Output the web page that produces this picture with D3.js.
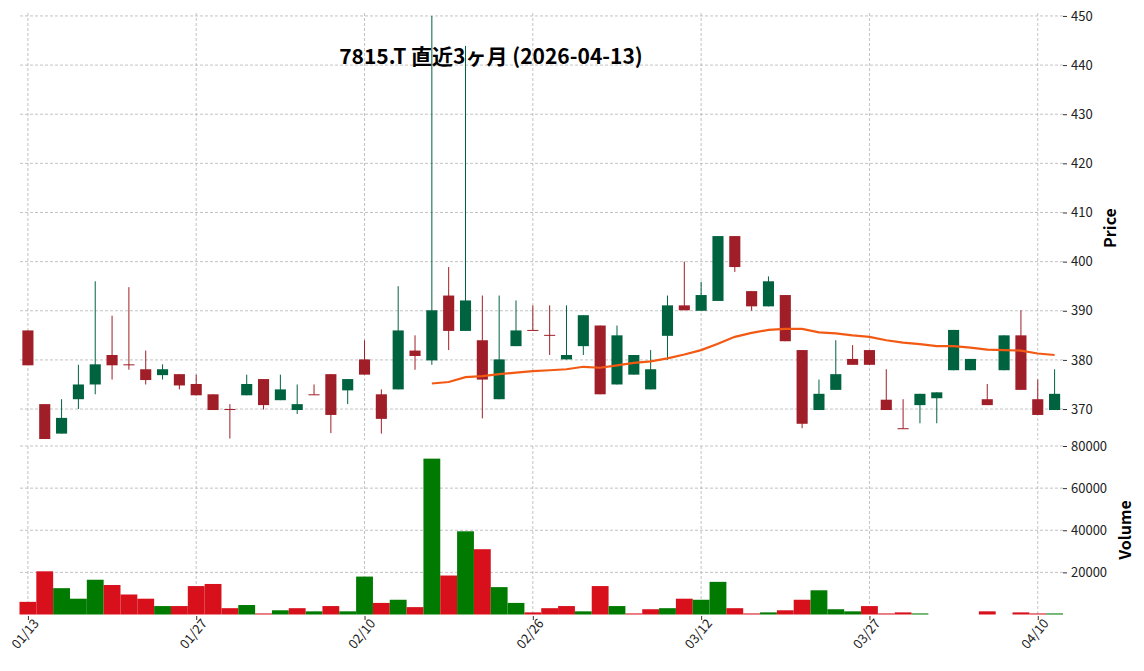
<!DOCTYPE html>
<html><head><meta charset="utf-8">
<script src="https://cdn.jsdelivr.net/npm/d3@7"></script>
<style>body{margin:0;background:#fff}svg{font-family:"Noto Sans CJK JP","DejaVu Sans",sans-serif}</style>
</head><body>
<script>
var dates = ["01/13","01/14","01/15","01/16","01/19","01/20","01/21","01/22","01/23","01/26",
  "01/27","01/28","01/29","01/30","02/02","02/03","02/04","02/05","02/06","02/09",
  "02/10","02/12","02/13","02/16","02/17","02/18","02/19","02/20","02/24","02/25",
  "02/26","02/27","03/02","03/03","03/04","03/05","03/06","03/09","03/10","03/11",
  "03/12","03/13","03/16","03/17","03/18","03/19","03/23","03/24","03/25","03/26",
  "03/27","03/30","03/31","04/01","04/02","04/03","04/06","04/07","04/08","04/09",
  "04/10","04/13"];
var opens = [386,371,365,372,375,381,379.1,378.1,376.9,377.1,375.1,373,370,372.8,376.1,371.8,369.8,373,377.1,373.8,
  380.1,373,374,381.9,379.9,393.1,385.9,384,372,382.8,386.1,385.1,380.1,382.8,387,375,377,374,384.9,391.1,
  390,392,405.2,394,390.9,393.2,382,369.8,373.9,380.2,382,371.9,366.1,370.8,372.2,377.9,377.9,372,377.9,385,372,369.8];
var highs = [386,371,372,379,396,389,394.8,381.9,379.1,377.1,377,373,371,377,376.1,377,375,375,377.1,376.1,
  384,374,395,385,450,398.9,443.9,393.1,393.1,392.1,391.1,391.1,391.1,389.1,387,387,381,382,393.1,400,
  395.9,405.2,405.2,394,397,393.2,382,376,384,383,382,378.1,372,373.1,373.4,386.1,380.2,375.1,385,390.1,376,378.1];
var lows = [379,364,365,370,373,376,378,375,376,374,372.8,369.8,364,372.8,369.9,371.8,369,372.9,365.1,371,
  377,365,374,378,379,382,385.9,368.1,372,382.8,386,381,380.1,381,373,375,377,374,380,390.1,
  390,392,397.9,390,390.9,383.8,366.1,369.8,373.9,379,379,369.8,366,367.1,367.1,377.9,377.9,370.8,377.9,373.9,368.8,369.8];
var closes = [378.9,363.9,368.2,375,379.1,378.9,378.9,375.9,378.1,374.8,372.8,369.8,369.9,375.1,370.8,374,371,372.9,368.8,376.1,
  377,368,386,380.8,390.1,385.9,392.1,376,380.1,386,386,385,381,389.1,373,385,381,378.1,391.1,390.1,
  393.2,405.2,398.9,390.9,396,383.8,367,373.1,377.1,379,379,369.8,366,373.1,373.4,386.1,380.2,370.8,385,373.9,368.8,373.1];
var ma25 = [null,null,null,null,null,null,null,null,null,null,null,null,null,null,null,null,null,null,null,null,
  null,null,null,null,375.2,375.5,376.5,376.7,377.1,377.4,377.7,377.9,378.1,378.6,378.4,378.9,379.4,379.7,380.3,381.1,
  382,383.3,384.7,385.5,386.1,386.3,386.3,385.6,385.4,385,384.7,384,383.5,383.2,382.8,382.8,382.5,382.1,382,381.9,381.3,381];
var volumes = [6000,20500,12500,7500,16500,14000,9500,7500,4000,4000,13500,14500,3000,4500,500,2000,3000,1500,4000,1500,
  18000,5500,7000,3500,74000,18500,39500,31000,13000,5500,1000,3000,4000,1500,13500,4000,500,2500,3000,7500,
  7000,15500,3000,500,1000,2000,7000,11500,2500,1500,4000,500,1000,500,0,0,0,1500,0,1000,500,500];
var volColors = "RRGGGRRRGRRRRGRGRGRGGRGRGRGRGGRRRGRGRRGRGGRRGRRGGGRRRG000R0RRG";
var priceTicks = [370,380,390,400,410,420,430,440,450];
var volTicks = [20000,40000,60000,80000];
var tickIdx = [0,10,20,30,40,50,60];

var W = 1144, H = 671;
var svg = d3.select("body").append("svg").attr("width", W).attr("height", H);
var x = d3.scaleLinear().domain([-0.47, 61.5]).range([20, 1063]);
var y = d3.scaleLinear().domain([363.7, 450.6]).range([440, 13]);
var yv = d3.scaleLinear().domain([0, 80000]).range([614.5, 446]);
var step = x(1) - x(0);
var upC = "#006340", dnC = "#a01e28";

function grid(g, yPos, top, bottom) {
  g.selectAll(".h").data(yPos).enter().append("line")
    .attr("x1", 20).attr("x2", 1063).attr("y1", function(d){return d;}).attr("y2", function(d){return d;})
    .attr("stroke", "#b4b4b4").attr("stroke-dasharray", "3,2").attr("stroke-width", 0.8);
  g.selectAll(".v").data(tickIdx).enter().append("line")
    .attr("x1", function(d){return x(d);}).attr("x2", function(d){return x(d);})
    .attr("y1", top).attr("y2", bottom)
    .attr("stroke", "#b4b4b4").attr("stroke-dasharray", "3,2").attr("stroke-width", 0.8);
}
grid(svg.append("g"), priceTicks.map(y), 13, 440);
grid(svg.append("g"), volTicks.map(yv), 446, 614);

// candles
var c = svg.append("g");
d3.range(opens.length).forEach(function(i) {
  var up = closes[i] >= opens[i], col = up ? upC : dnC;
  c.append("line").attr("x1", x(i)).attr("x2", x(i)).attr("y1", y(highs[i])).attr("y2", y(lows[i]))
    .attr("stroke", col).attr("stroke-width", 1);
  var t = y(Math.max(opens[i], closes[i])), b = y(Math.min(opens[i], closes[i]));
  c.append("rect").attr("x", x(i) - step * 0.33).attr("width", step * 0.66)
    .attr("y", t).attr("height", Math.max(b - t, 1)).attr("fill", col);
});

var line = d3.line().defined(function(d){return d != null;})
  .x(function(d, i){return x(i);}).y(function(d){return y(d);});
svg.append("path").datum(ma25).attr("d", line).attr("fill", "none")
  .attr("stroke", "#f25a14").attr("stroke-width", 2.2);

// volume
svg.append("g").selectAll("rect").data(volumes).enter().append("rect")
  .attr("x", function(d, i){return x(i) - step / 2;}).attr("width", step)
  .attr("y", function(d){return yv(d);})
  .attr("height", function(d){return yv(0) - yv(d);})
  .attr("fill", function(d, i){return volColors[i] == "G" ? "#007a00" : "#d7101c";});

// axes
var ay = svg.append("g").attr("transform", "translate(1063,0)")
  .call(d3.axisRight(y).tickValues(priceTicks).tickSize(4).tickPadding(4));
var av = svg.append("g").attr("transform", "translate(1063,0)")
  .call(d3.axisRight(yv).tickValues(volTicks).tickFormat(d3.format("d")).tickSize(4).tickPadding(4));
var ax = svg.append("g").attr("transform", "translate(0,616)")
  .call(d3.axisBottom(x).tickValues(tickIdx).tickFormat(function(d){return dates[d];}).tickSize(4));
[ay, av, ax].forEach(function(a) {
  a.select(".domain").remove();
  a.selectAll("text").attr("font-size", 13).attr("fill", "#222").style("font-family", "'Noto Sans CJK JP'");
  a.selectAll("line").attr("stroke", "#333");
});
ax.selectAll("text").attr("text-anchor", "end").attr("dx", "0.1em").attr("dy", "0.5em")
  .attr("transform", "rotate(-50)");

svg.append("text").attr("transform", "translate(1116,228) rotate(-90)").attr("text-anchor", "middle")
  .attr("font-size", 16).attr("font-weight", "bold").text("Price");
svg.append("text").attr("transform", "translate(1131,530) rotate(-90)").attr("text-anchor", "middle")
  .attr("font-size", 16).attr("font-weight", "bold").text("Volume");
svg.append("text").attr("x", 491).attr("y", 64).attr("text-anchor", "middle")
  .attr("font-size", 21).attr("font-weight", "bold").text("7815.T  直近3ヶ月  (2026-04-13)");
</script>
</body></html>
